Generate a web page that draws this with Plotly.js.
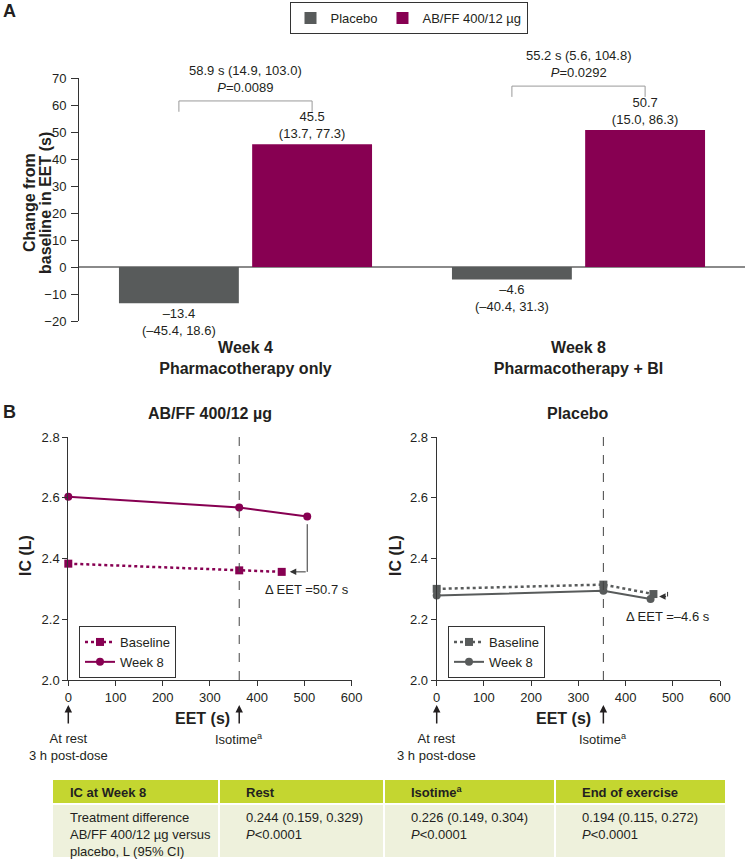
<!DOCTYPE html>
<html>
<head>
<meta charset="utf-8">
<script src="https://cdn.plot.ly/plotly-3.0.1.min.js"></script>
<style>
  body { margin: 0; background: #fff; }
  #chart { width: 745px; height: 859px; }
</style>
</head>
<body>
<div id="chart"></div>
<script>
// panel A - change from baseline in EET (s)
const weeks = ["Week 4<br>Pharmacotherapy only", "Week 8<br>Pharmacotherapy + BI"];
const placeboChange = [-13.4, -4.6];
const placeboCI = [[-45.4, 18.6], [-40.4, 31.3]];
const abffChange = [45.5, 50.7];
const abffCI = [[13.7, 77.3], [15.0, 86.3]];
const diffChange = [58.9, 55.2];
const diffCI = [[14.9, 103.0], [5.6, 104.8]];
const diffP = ["0.0089", "0.0292"];

// panel B - IC (L) vs EET (s)
const abffBaseX = [0, 362, 452];
const abffBaseY = [2.383, 2.361, 2.356];
const abffWk8X = [0, 362, 506];
const abffWk8Y = [2.603, 2.568, 2.538];
const pboBaseX = [0, 353, 459];
const pboBaseY = [2.300, 2.314, 2.283];
const pboWk8X = [0, 353, 453];
const pboWk8Y = [2.278, 2.294, 2.267];
const deltaEET = [50.7, -4.6];

// table
const tableHeader = ["IC at Week 8", "Rest", "Isotime<sup>a</sup>", "End of exercise"];
const rowLabel = "Treatment difference<br>AB/FF 400/12 µg versus<br>placebo, L (95% CI)";
const icDiff = [0.244, 0.226, 0.194];
const icCI = [[0.159, 0.329], [0.149, 0.304], [0.115, 0.272]];
const icP = ["0.0001", "0.0001", "0.0001"];

const W = 745, H = 859;
const px = (x) => x / W;
const py = (y) => 1 - y / H;

const FONT = "Liberation Sans, Arial, sans-serif";
const INK = "#231f20";
const AXIS = "#333333";
const PBO = "#585b5b";
const ABFF = "#870052";

const fmt = (v, d = 1) => (v < 0 ? "–" : "") + Math.abs(v).toFixed(d);
const barText = (vals, cis) => vals.map((v, i) => `${fmt(v)}<br>(${fmt(cis[i][0])}, ${fmt(cis[i][1])})`);

const data = [
  {
    type: "bar", name: "Placebo", x: weeks, y: placeboChange,
    marker: { color: PBO }, text: barText(placeboChange, placeboCI),
    textposition: "outside", cliponaxis: false,
    outsidetextfont: { size: 13, color: INK, family: FONT },
    xaxis: "x", yaxis: "y", legend: "legend", hoverinfo: "skip"
  },
  {
    type: "bar", name: "AB/FF 400/12 µg", x: weeks, y: abffChange,
    marker: { color: ABFF }, text: barText(abffChange, abffCI),
    textposition: "outside", cliponaxis: false,
    outsidetextfont: { size: 13, color: INK, family: FONT },
    xaxis: "x", yaxis: "y", legend: "legend", hoverinfo: "skip"
  },
  {
    type: "scatter", mode: "lines+markers", name: "Baseline", x: abffBaseX, y: abffBaseY,
    line: { color: ABFF, width: 2.5, dash: "dot" }, marker: { symbol: "square", size: 8, color: ABFF },
    cliponaxis: false, xaxis: "x2", yaxis: "y2", legend: "legend2"
  },
  {
    type: "scatter", mode: "lines+markers", name: "Week 8", x: abffWk8X, y: abffWk8Y,
    line: { color: ABFF, width: 2 }, marker: { symbol: "circle", size: 8, color: ABFF },
    cliponaxis: false, xaxis: "x2", yaxis: "y2", legend: "legend2"
  },
  {
    type: "scatter", mode: "lines+markers", name: "Baseline", x: pboBaseX, y: pboBaseY,
    line: { color: PBO, width: 2.5, dash: "dot" }, marker: { symbol: "square", size: 8, color: PBO },
    cliponaxis: false, xaxis: "x3", yaxis: "y3", legend: "legend3"
  },
  {
    type: "scatter", mode: "lines+markers", name: "Week 8", x: pboWk8X, y: pboWk8Y,
    line: { color: PBO, width: 2 }, marker: { symbol: "circle", size: 8, color: PBO },
    cliponaxis: false, xaxis: "x3", yaxis: "y3", legend: "legend3"
  }
];

const tickAxis = {
  showline: true, linecolor: AXIS, linewidth: 1, ticks: "outside", ticklen: 5,
  tickcolor: AXIS, showgrid: false, zeroline: false, fixedrange: true,
  tickfont: { size: 13, color: INK, family: FONT }
};

const legendBox = {
  bordercolor: AXIS, borderwidth: 1, bgcolor: "#fff",
  font: { size: 13, color: INK, family: FONT }, itemwidth: 30, tracegroupgap: 0
};

const shapes = [];
const annotations = [];

// brackets between bars
const bracketTop = [61.5, 67.0];
weeks.forEach((w, i) => {
  const l = i - 0.2, r = i + 0.2, top = bracketTop[i], leg = top - 4;
  const ln = { color: "#999", width: 1 };
  shapes.push({ type: "line", xref: "x", yref: "y", x0: l, x1: r, y0: top, y1: top, line: ln });
  shapes.push({ type: "line", xref: "x", yref: "y", x0: l, x1: l, y0: top, y1: leg, line: ln });
  shapes.push({ type: "line", xref: "x", yref: "y", x0: r, x1: r, y0: top, y1: leg, line: ln });
  annotations.push({
    xref: "x", yref: "y", x: i, y: top, xanchor: "center", yanchor: "bottom", yshift: 4, showarrow: false,
    text: `${diffChange[i].toFixed(1)} s (${diffCI[i][0].toFixed(1)}, ${diffCI[i][1].toFixed(1)})<br><i>P</i>=${diffP[i]}`,
    font: { size: 13, color: INK, family: FONT }
  });
});

// isotime dashed lines
[["x2", "y2", abffWk8X[1]], ["x3", "y3", pboWk8X[1]]].forEach(([xr, yr, iso]) => {
  shapes.push({ type: "line", xref: xr, yref: yr, x0: iso, x1: iso, y0: 2.0, y1: 2.815,
    line: { color: "#444", width: 1, dash: "dash" } });
});

// delta EET arrows
shapes.push({ type: "line", xref: "x2", yref: "y2", x0: abffWk8X[2], x1: abffWk8X[2],
  y0: abffWk8Y[2] - 0.025, y1: abffBaseY[2], line: { color: AXIS, width: 1 } });
annotations.push({ xref: "x2", yref: "y2", axref: "x2", ayref: "y2", x: abffBaseX[2] + 17, y: abffBaseY[2],
  ax: abffWk8X[2], ay: abffBaseY[2], text: "", showarrow: true, arrowhead: 2, arrowsize: 1.3,
  arrowwidth: 1, arrowcolor: AXIS });
shapes.push({ type: "line", xref: "x3", yref: "y3", x0: pboBaseX[2] + 30, x1: pboBaseX[2] + 30,
  y0: 2.29, y1: 2.275, line: { color: AXIS, width: 1 } });
annotations.push({ xref: "x3", yref: "y3", axref: "x3", ayref: "y3", x: pboBaseX[2] + 12, y: 2.275,
  ax: pboBaseX[2] + 30, ay: 2.275, text: "", showarrow: true, arrowhead: 2, arrowsize: 1.3,
  arrowwidth: 1, arrowcolor: AXIS });

// labels
const label = (x, y, text, size, bold, extra = {}) => annotations.push(Object.assign({
  xref: "paper", yref: "paper", x: px(x), y: py(y), text: text, showarrow: false,
  xanchor: "center", yanchor: "middle",
  font: { size: size, color: INK, family: FONT, weight: bold ? "bold" : "normal" }
}, extra));

label(307, 589, `Δ EET =${fmt(deltaEET[0])} s`, 13, false);
label(668, 616, `Δ EET =${fmt(deltaEET[1])} s`, 13, false);
label(9, 11, "A", 18, true);
label(9, 412, "B", 18, true);
label(29, 203, "Change from", 16, true, { textangle: -90 });
label(45, 203, "baseline in EET (s)", 16, true, { textangle: -90 });
label(210, 413, "AB/FF 400/12 µg", 16, true);
label(578, 413, "Placebo", 16, true);
label(25, 556, "IC (L)", 16, true, { textangle: -90 });
label(395, 556, "IC (L)", 16, true, { textangle: -90 });
label(202, 718, "EET (s)", 16, true);
label(563, 718, "EET (s)", 16, true);

// time markers below the x axes
[["x2", abffWk8X[1]], ["x3", pboWk8X[1]]].forEach(([xr, iso]) => {
  [0, iso].forEach((xv) => {
    annotations.push({ xref: xr, yref: "paper", x: xv, y: py(705), ax: 0, ay: 20, text: "",
      showarrow: true, arrowhead: 2, arrowsize: 1, arrowwidth: 1.5, arrowcolor: INK });
  });
  annotations.push({ xref: xr, yref: "paper", x: 0, y: py(729), xanchor: "center", yanchor: "top", showarrow: false,
    text: "At rest<br>3 h post-dose", font: { size: 13, color: INK, family: FONT } });
  annotations.push({ xref: xr, yref: "paper", x: iso, y: py(729), xanchor: "center", yanchor: "top", showarrow: false,
    text: "Isotime<sup>a</sup>", font: { size: 13, color: INK, family: FONT } });
});

// table
const colEdges = [53, 219, 384, 555, 725];
const tTop = 780, tMid = 804, tBot = 857;
shapes.push({ type: "rect", xref: "paper", yref: "paper", x0: px(colEdges[0]), x1: px(colEdges[4]),
  y0: py(tMid), y1: py(tTop), fillcolor: "#c4d630", line: { width: 0 }, layer: "below" });
shapes.push({ type: "rect", xref: "paper", yref: "paper", x0: px(colEdges[0]), x1: px(colEdges[4]),
  y0: py(tBot), y1: py(tMid), fillcolor: "#eef1dc", line: { width: 0 }, layer: "below" });
colEdges.slice(1, 4).forEach((cx) => {
  shapes.push({ type: "line", xref: "paper", yref: "paper", x0: px(cx), x1: px(cx), y0: py(tBot), y1: py(tTop),
    line: { color: "#fff", width: 2 } });
});
shapes.push({ type: "line", xref: "paper", yref: "paper", x0: px(colEdges[0]), x1: px(colEdges[4]),
  y0: py(tMid), y1: py(tMid), line: { color: "#fff", width: 2 } });

tableHeader.forEach((h, i) => {
  const pad = i === 0 ? 15 : 25;
  label(colEdges[i] + pad, (tTop + tMid) / 2, h, 13, true, { xanchor: "left" });
});
label(colEdges[0] + 15, tMid + 4, rowLabel, 13, false, { xanchor: "left", yanchor: "top", align: "left" });
icDiff.forEach((v, i) => {
  label(colEdges[i + 1] + 25, tMid + 4,
    `${v.toFixed(3)} (${icCI[i][0].toFixed(3)}, ${icCI[i][1].toFixed(3)})<br><i>P</i>&lt;${icP[i]}`,
    13, false, { xanchor: "left", yanchor: "top", align: "left" });
});

const layout = {
  width: W, height: H,
  margin: { l: 0, r: 0, t: 0, b: 0 },
  paper_bgcolor: "#fff", plot_bgcolor: "#fff",
  font: { family: FONT, color: INK, size: 13 },
  barmode: "group", bargap: 0.2, bargroupgap: 0.1,
  hovermode: false,
  xaxis: {
    domain: [px(79), 1], range: [-0.5, 1.5], type: "category",
    showline: false, ticks: "outside", ticklen: 12, tickcolor: "rgba(0,0,0,0)",
    showgrid: false, zeroline: false, fixedrange: true,
    tickfont: { size: 16, color: INK, family: FONT, weight: "bold" }
  },
  yaxis: Object.assign({}, tickAxis, {
    domain: [py(321), py(78)], range: [-20, 70], dtick: 10, ticklen: 7, ticklabelstandoff: 2,
    zeroline: true, zerolinecolor: "#8a8a8a", zerolinewidth: 1.5
  }),
  xaxis2: Object.assign({}, tickAxis, { domain: [px(68.3), px(351.6)], range: [0, 600], dtick: 100, anchor: "y2" }),
  yaxis2: Object.assign({}, tickAxis, { domain: [py(680), py(437)], range: [2.0, 2.8], dtick: 0.2, tickformat: ".1f", anchor: "x2" }),
  xaxis3: Object.assign({}, tickAxis, { domain: [px(436.7), px(720)], range: [0, 600], dtick: 100, anchor: "y3" }),
  yaxis3: Object.assign({}, tickAxis, { domain: [py(680), py(437)], range: [2.0, 2.8], dtick: 0.2, tickformat: ".1f", anchor: "x3" }),
  legend: Object.assign({}, legendBox, { orientation: "h", x: px(408.5), xanchor: "center", y: py(2), yanchor: "top" }),
  legend2: Object.assign({}, legendBox, { x: px(79), xanchor: "left", y: py(626), yanchor: "top" }),
  legend3: Object.assign({}, legendBox, { x: px(448), xanchor: "left", y: py(626), yanchor: "top" }),
  shapes: shapes,
  annotations: annotations
};

Plotly.newPlot("chart", data, layout, { staticPlot: true, displayModeBar: false });
</script>
</body>
</html>
